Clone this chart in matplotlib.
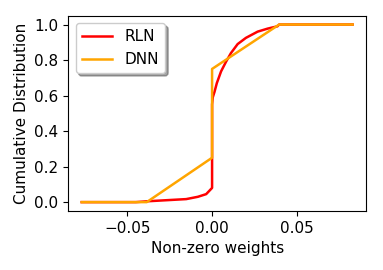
import matplotlib
matplotlib.use("Agg")
import matplotlib.pyplot as plt

rln_x = [-0.077, -0.045, -0.0378, -0.0153, -0.0084, -0.0035, -0.0012, 0.0, 0.0, 0.0004,
         0.0014, 0.0028, 0.0053, 0.0082, 0.0112, 0.0151, 0.0200, 0.0269, 0.0328,
         0.0386, 0.0396, 0.083]
rln_y = [0.0, 0.0, 0.005, 0.017, 0.03, 0.045, 0.068, 0.08, 0.55, 0.59,
         0.62, 0.67, 0.736, 0.79, 0.84, 0.89, 0.925, 0.96, 0.977,
         0.99, 1.0, 1.0]

dnn_x = [-0.077, -0.0386, 0.0, 0.0, 0.0396, 0.083]
dnn_y = [0.0, 0.0, 0.25, 0.75, 1.0, 1.0]

fig = plt.figure(figsize=(3.83, 2.70), dpi=100)
ax = fig.add_axes([0.178, 0.2185, 0.778, 0.7235])
ax.plot(rln_x, rln_y, color='red', lw=1.8, label='RLN')
ax.plot(dnn_x, dnn_y, color='orange', lw=1.8, label='DNN')
ax.set_xlabel('Non-zero weights', fontsize=11)
ax.set_ylabel('Cumulative Distribution', fontsize=11)
ax.set_xticks([-0.05, 0.0, 0.05])
ax.set_yticks([0.0, 0.2, 0.4, 0.6, 0.8, 1.0])
ax.tick_params(labelsize=11)
ax.legend(loc='upper left', shadow=True, fontsize=11)
fig.savefig('out.png', dpi=100)
